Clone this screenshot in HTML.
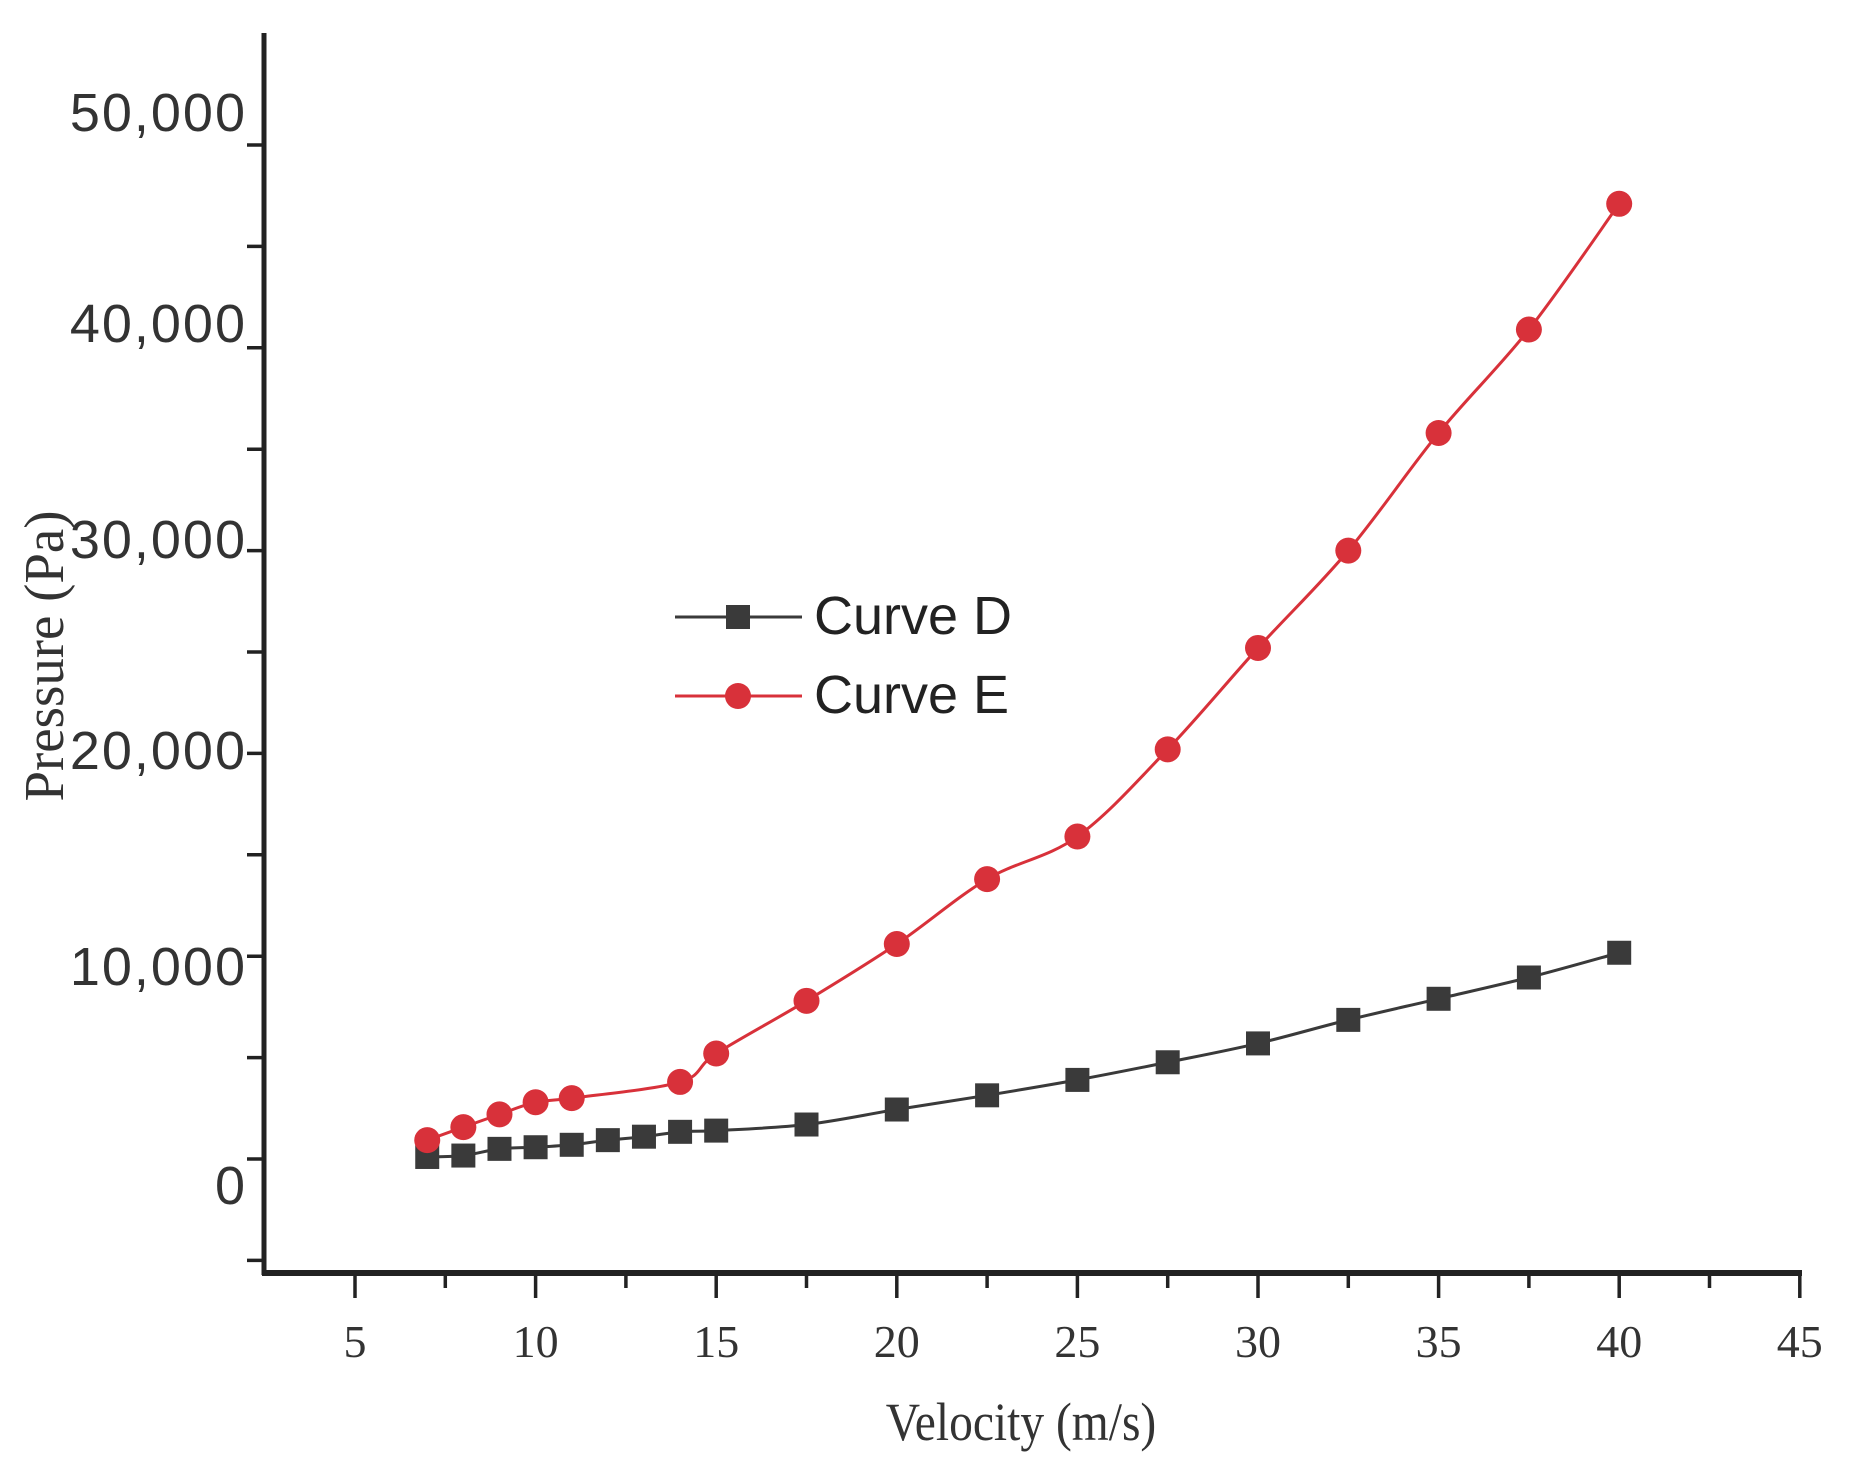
<!DOCTYPE html>
<html><head><meta charset="utf-8"><style>
html,body{margin:0;padding:0;background:#fff;width:1850px;height:1469px;overflow:hidden}
svg{display:block}
</style></head><body>
<svg id="s" width="1850" height="1469" xmlns="http://www.w3.org/2000/svg">
<g stroke="#222" stroke-width="5" fill="none">
<line x1="264" y1="33" x2="264" y2="1275"/>
<line x1="262" y1="1273" x2="1802" y2="1273" stroke-width="6"/>
</g>
<g id="ticks" stroke="#222" stroke-width="3.5"></g>
<g font-family="Liberation Sans, sans-serif" font-size="54" fill="#333" text-anchor="end" id="yl"></g>
<g font-family="Liberation Serif, serif" font-size="46" fill="#333" text-anchor="middle" id="xl"></g>
<text x="1021" y="1440" font-family="Liberation Serif, serif" font-size="54" fill="#333" text-anchor="middle" transform="translate(1021 0) scale(0.88 1) translate(-1021 0)">Velocity (m/s)</text>
<text x="0" y="0" font-family="Liberation Serif, serif" font-size="56" fill="#333" text-anchor="middle" transform="translate(63 656) rotate(-90) scale(0.98 1)">Pressure (Pa)</text>
<g id="series"></g>
<g>
<line x1="675" y1="617" x2="802" y2="617" stroke="#3a3a3a" stroke-width="3"/>
<rect x="726" y="605" width="24" height="24" fill="#3a3a3a"/>
<line x1="675" y1="696" x2="802" y2="696" stroke="#d8313a" stroke-width="3"/>
<circle cx="738" cy="696" r="13" fill="#d8313a"/>
<text x="814" y="634" font-family="Liberation Sans, sans-serif" font-size="54" fill="#222">Curve D</text>
<text x="814" y="713" font-family="Liberation Sans, sans-serif" font-size="54" fill="#222">Curve E</text>
</g>
</svg>
<script>
var NS="http://www.w3.org/2000/svg";
function X(v){return 174.4+36.12*v}
function Y(p){return 1159-0.02028*p}
function el(t,a,par){var e=document.createElementNS(NS,t);for(var k in a)e.setAttribute(k,a[k]);document.getElementById(par).appendChild(e);return e}
for(var p=-5000;p<=50000;p+=5000){var y=Y(p);el("line",{x1:247,y1:y,x2:264,y2:y},"ticks");}
var LY={0:1185,10000:966,20000:750,30000:539,40000:323,50000:112};
for(var p=0;p<=50000;p+=10000){var t=el("text",{x:247,y:LY[p]+19,"letter-spacing":"2"},"yl");t.textContent=p==0?"0":(p/1000)+",000";}
for(var v=5;v<=45;v+=2.5){var x=X(v);el("line",{x1:x,y1:1273,x2:x,y2:(v%5==0)?1298:1288},"ticks");}
for(var v=5;v<=45;v+=5){var t=el("text",{x:X(v),y:1357},"xl");t.textContent=v;}
var E=[[7,930],[8,1570],[9,2200],[10,2800],[11,3000],[14,3800],[15,5200],[17.5,7800],[20,10600],[22.5,13800],[25,15900],[27.5,20200],[30,25200],[32.5,30000],[35,35800],[37.5,40900],[40,47100]];
var D=[[7,100],[8,170],[9,500],[10,580],[11,700],[12,930],[13,1100],[14,1340],[15,1400],[17.5,1700],[20,2440],[22.5,3140],[25,3900],[27.5,4770],[30,5700],[32.5,6860],[35,7900],[37.5,8950],[40,10170]];
function path(d){var pts=d.map(function(q){return [X(q[0]),Y(q[1])]});var s="M"+pts[0][0]+" "+pts[0][1];
for(var i=0;i<pts.length-1;i++){var p0=pts[Math.max(0,i-1)],p1=pts[i],p2=pts[i+1],p3=pts[Math.min(pts.length-1,i+2)];
s+=" C"+(p1[0]+(p2[0]-p0[0])/6)+" "+(p1[1]+(p2[1]-p0[1])/6)+" "+(p2[0]-(p3[0]-p1[0])/6)+" "+(p2[1]-(p3[1]-p1[1])/6)+" "+p2[0]+" "+p2[1];}return s;}
el("path",{d:path(D),stroke:"#3a3a3a","stroke-width":3,fill:"none"},"series");
el("path",{d:path(E),stroke:"#d8313a","stroke-width":3,fill:"none"},"series");
D.forEach(function(q){el("rect",{x:X(q[0])-12,y:Y(q[1])-12,width:24,height:24,fill:"#3a3a3a"},"series")});
E.forEach(function(q){el("circle",{cx:X(q[0]),cy:Y(q[1]),r:13,fill:"#d8313a"},"series")});
</script>
</body></html>
